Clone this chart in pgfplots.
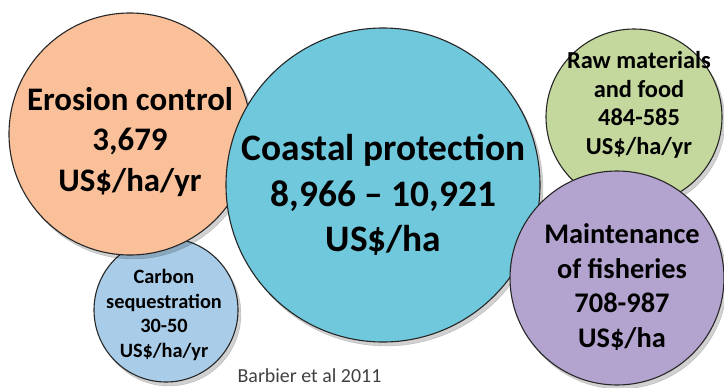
\documentclass[border=0pt]{standalone}
\usepackage{pgfplots}
\pgfplotsset{compat=1.18}
\usepackage{pgfplotstable}
\usepackage{fontspec}
\setmainfont{Carlito}
\definecolor{cOrange}{HTML}{FAC09A}
\definecolor{cTeal}{HTML}{6FC8DB}
\definecolor{cGreen}{HTML}{C4D79D}
\definecolor{cPurple}{HTML}{B3A3CF}
\definecolor{cBlue}{HTML}{A9CDE9}
\definecolor{cText}{HTML}{404040}
% bubbles: x, y (pixels from top), radius
\pgfplotstableread{
x   y   r
166 310 72
}\carbon
\pgfplotstableread{
x   y   r
130 134 121
}\erosion
\pgfplotstableread{
x   y   r
383 185 157
}\coastal
\pgfplotstableread{
x   y   r
634 117 88
}\raw
\pgfplotstableread{
x   y   r
617 278 107
}\fisheries
\begin{document}
\begin{tikzpicture}
\begin{axis}[
  scale only axis, width=724bp, height=388bp,
  xmin=0, xmax=724, ymin=0, ymax=388, y dir=reverse,
  hide axis, clip=true,
]
\pgfplotsset{
  bub/.style={only marks, mark=*, scatter,
    scatter/use mapped color={draw=black!85, fill=#1},
    visualization depends on={\thisrow{r}\as\rad},
    scatter/@pre marker code/.append style={/tikz/mark size=\rad bp},
    mark options={line width=1.1bp}},
  shd/.style={only marks, mark=*, scatter,
    scatter/use mapped color={draw=none, fill=black},
    visualization depends on={\thisrow{r}\as\rad},
    scatter/@pre marker code/.append style={/tikz/mark size=\rad bp},
    mark options={opacity=0.18}},
}
\addplot[shd] table[x expr=\thisrow{x}+3, y expr=\thisrow{y}+4] {\carbon};
\addplot[bub=cBlue] table {\carbon};
\addplot[shd] table[x expr=\thisrow{x}+3, y expr=\thisrow{y}+4] {\erosion};
\addplot[bub=cOrange] table {\erosion};
\addplot[shd] table[x expr=\thisrow{x}+3, y expr=\thisrow{y}+4] {\coastal};
\addplot[bub=cTeal] table {\coastal};
\addplot[shd] table[x expr=\thisrow{x}+3, y expr=\thisrow{y}+4] {\raw};
\addplot[bub=cGreen] table {\raw};
\addplot[shd] table[x expr=\thisrow{x}+3, y expr=\thisrow{y}+4] {\fisheries};
\addplot[bub=cPurple] table {\fisheries};

\coordinate (bbA) at (rel axis cs:0,0);
\coordinate (bbB) at (rel axis cs:1,1);
\coordinate (tE) at (axis cs:130,142);
\coordinate (tC) at (axis cs:383.5,195);
\coordinate (tS) at (axis cs:164,315);
\coordinate (tR) at (axis cs:639,105);
\coordinate (tM) at (axis cs:622,287);
\coordinate (tB) at (axis cs:309.5,376);
\end{axis}
\node[align=center, font=\fontsize{33}{40.5}\selectfont\bfseries] at (tE) {Erosion control\\3,679\\US\$/ha/yr};
\node[align=center, font=\fontsize{37.5}{46}\selectfont\bfseries] at (tC) {Coastal protection\\8,966 – 10,921\\US\$/ha};
\node[align=center, font=\fontsize{20.4}{24.8}\selectfont\bfseries] at (tS) {Carbon\\sequestration\\30-50\\US\$/ha/yr};
\node[align=center, font=\fontsize{24.5}{28.7}\selectfont\bfseries] at (tR) {Raw materials\\and food\\484-585\\US\$/ha/yr};
\node[align=center, font=\fontsize{28.5}{34.5}\selectfont\bfseries] at (tM) {Maintenance\\of fisheries\\708-987\\US\$/ha};
\node[text=cText, font=\fontsize{20}{24}\selectfont] at (tB) {Barbier et al 2011};
\pgfresetboundingbox
\path[use as bounding box] (bbA) rectangle (bbB);
\end{tikzpicture}
\end{document}
